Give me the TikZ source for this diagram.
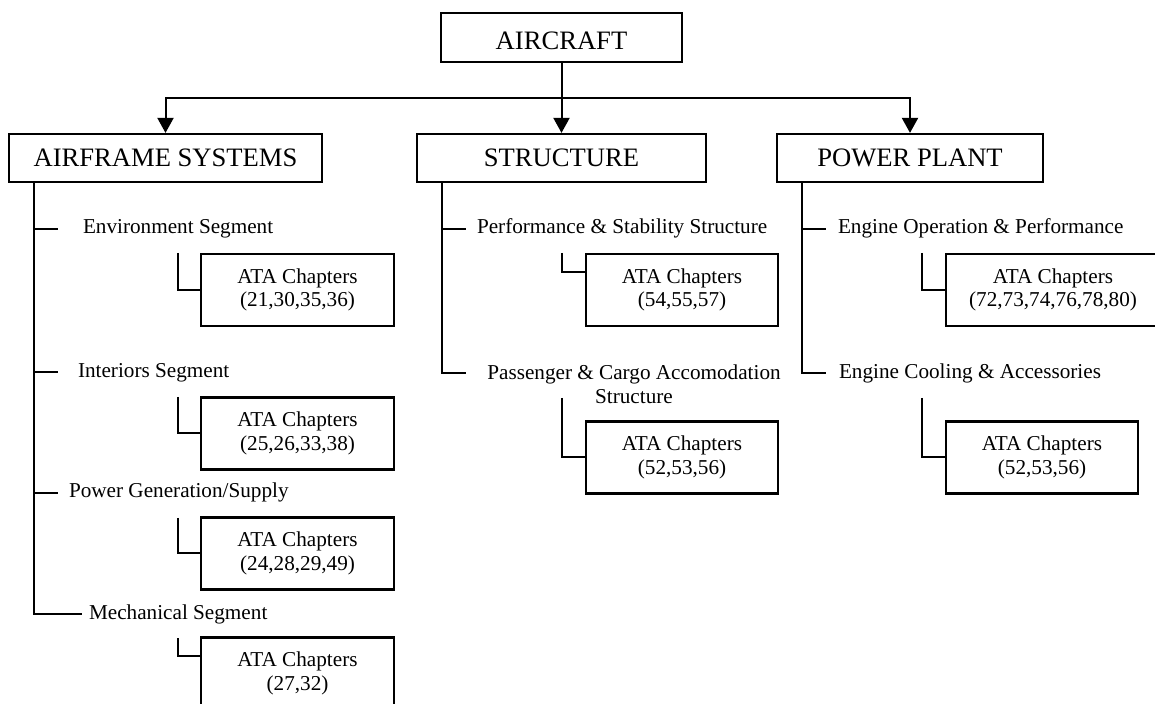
\documentclass[tikz,border=0pt]{standalone}
\usepackage{fontspec}
\setmainfont{Liberation Serif}
\usetikzlibrary{arrows.meta}
\begin{document}
\begin{tikzpicture}[x=0.5pt,y=-0.5pt,
  line width=1pt,
  headbox/.style={draw, line width=1.1pt, inner sep=0pt, minimum height=24pt,
    font=\fontsize{13.3}{15}\selectfont},
  atabox/.style={draw, line width=1.1pt, inner sep=0pt, minimum height=36pt,
    align=center, font=\fontsize{10.6}{11.8}\selectfont},
  seg/.style={inner sep=0pt, anchor=base west, font=\fontsize{10.6}{11.8}\selectfont},
  feed/.style={-{Triangle[length=7.5pt,width=8pt]}},
]
\useasboundingbox (0,0) rectangle (1155,704);
\clip (0,0) rectangle (1155,704);

% top level
\node[headbox, minimum width=120.5pt, minimum height=24.5pt, text height=11.8pt] (ac) at (561.5,37.5) {AIRCRAFT};
\node[headbox, minimum width=156.5pt] (as) at (165.5,158) {AIRFRAME SYSTEMS};
\node[headbox, minimum width=144.5pt] (st) at (561.5,158) {STRUCTURE};
\node[headbox, minimum width=133pt]   (pp) at (910,158)   {POWER PLANT};

\coordinate (hub) at (561.5,98);
\draw[feed] (ac) -- (st);
\draw[feed] (hub) -| (as);
\draw[feed] (hub) -| (pp);

% airframe systems branch
\node[seg] (env) at (82,234)  {Environment Segment};
\node[seg] (int) at (77,378)  {Interiors Segment};
\node[seg] (pgs) at (68,498)  {Power Generation/Supply};
\node[seg] (mec) at (88,619)  {Mechanical Segment};

\node[atabox, minimum width=96.5pt] (a1) at (297.5,290)   {ATA Chapters\\(21,30,35,36)};
\node[atabox, minimum width=96.5pt] (a2) at (297.5,433.5) {ATA Chapters\\(25,26,33,38)};
\node[atabox, minimum width=96.5pt] (a3) at (297.5,553.5) {ATA Chapters\\(24,28,29,49)};
\node[atabox, minimum width=96.5pt] (a4) at (297.5,673.5) {ATA Chapters\\(27,32)};

\coordinate (ta) at (34,182);
\coordinate (envT) at (34,229);
\coordinate (intT) at (34,372);
\coordinate (pgsT) at (34,493);
\draw (ta) |- ([xshift=-3pt]mec.west);
\draw (envT) -- ++(24,0);
\draw (intT) -- ++(24,0);
\draw (pgsT) -- ++(24,0);

\coordinate (a1c) at (178,253);
\coordinate (a2c) at (178,397);
\coordinate (a3c) at (178,518);
\coordinate (a4c) at (178,638);
\coordinate (a4j) at (201,656);
\draw (a1c) |- (a1);
\draw (a2c) |- (a2);
\draw (a3c) |- (a3);
\draw (a4c) |- (a4j);

% structure branch
\node[seg] (pss) at (476,234) {Performance \& Stability Structure};
\node[inner sep=0pt, anchor=north, align=center, font=\fontsize{10.6}{11.8}\selectfont]
  (pcs) at (634,364) {Passenger \& Cargo Accomodation\\Structure};

\node[atabox, minimum width=96pt] (s1) at (682,290)   {ATA Chapters\\(54,55,57)};
\node[atabox, minimum width=96pt] (s2) at (682,457.5) {ATA Chapters\\(52,53,56)};

\coordinate (ts) at (442,182);
\coordinate (pssT) at (442,229);
\coordinate (pcsE) at (466,373);
\draw (ts) |- (pcsE);
\draw (pssT) -- ++(24,0);

\coordinate (s1c) at (562,253);
\coordinate (s1j) at (586,272);
\coordinate (s2c) at (562,398);
\draw (s1c) |- (s1j);
\draw (s2c) |- (s2);

% power plant branch
\node[seg] (eop) at (837,234) {Engine Operation \& Performance};
\node[seg] (eca) at (838,379) {Engine Cooling \& Accessories};

\node[atabox, minimum width=107pt] (p1) at (1053,290)   {ATA Chapters\\(72,73,74,76,78,80)};
\node[atabox, minimum width=96pt]  (p2) at (1042,457.5) {ATA Chapters\\(52,53,56)};

\coordinate (tp) at (802,182);
\coordinate (eopT) at (802,229);
\coordinate (ecaE) at (826,373);
\draw (tp) |- (ecaE);
\draw (eopT) -- ++(24,0);

\coordinate (p1c) at (922,253);
\coordinate (p2c) at (922,398);
\draw (p1c) |- (p1);
\draw (p2c) |- (p2);
\end{tikzpicture}
\end{document}
